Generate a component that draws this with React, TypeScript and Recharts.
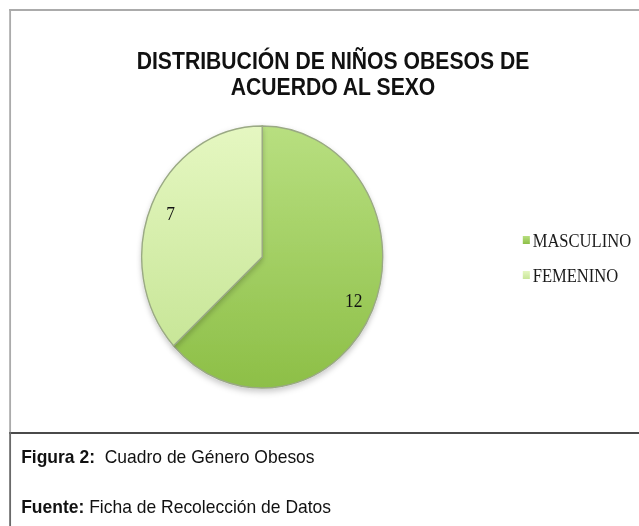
import React from 'react';
import { PieChart, Pie, Cell, Legend } from 'recharts';

const categories = ['MASCULINO', 'FEMENINO'];
const counts = [12, 7];
const titleLines = ['DISTRIBUCIÓN DE NIÑOS OBESOS DE', 'ACUERDO AL SEXO'];
const captionFigure = ['Figura 2:', 'Cuadro de Género Obesos'];
const captionSource = ['Fuente:', 'Ficha de Recolección de Datos'];

const data = categories.map((name, i) => ({ name, value: counts[i] }));

// the original picture is squeezed sideways, so draw wider and scale back down
const SQUEEZE = 0.92;
const W = 639 / SQUEEZE;
const H = 526;

const sliceFills = [
  { id: 'gradMasc', top: '#b8df80', bottom: '#8dbf47' },
  { id: 'gradFem', top: '#e5f7c1', bottom: '#c8e698' },
];

const RADIAN = Math.PI / 180;

const renderLabel = ({ cx, cy, midAngle, outerRadius, value }: any) => {
  const r = outerRadius * 0.83;
  const x = cx + r * Math.cos(-midAngle * RADIAN);
  const y = cy + r * Math.sin(-midAngle * RADIAN);
  return (
    <text
      x={x}
      y={y}
      textAnchor="middle"
      dominantBaseline="central"
      fontFamily="'Liberation Serif', serif"
      fontSize={19}
      fill="#111"
    >
      {value}
    </text>
  );
};

const LegendList = ({ payload }: any) => {
  // keep the order of the data, not the alphabetical one
  const items = [...(payload || [])].sort(
    (a: any, b: any) => categories.indexOf(a.value) - categories.indexOf(b.value)
  );
  return (
    <div style={{ fontFamily: "'Liberation Serif', serif", fontSize: 18, color: '#1a1a1a' }}>
      {items.map((entry: any) => {
        const idx = categories.indexOf(entry.value);
        return (
          <div key={entry.value} style={{ height: 35, display: 'flex', alignItems: 'center' }}>
            <svg width={8} height={8} style={{ marginRight: 3, marginTop: -3 }}>
              <rect width={8} height={8} fill={`url(#${sliceFills[idx].id})`} />
            </svg>
            <span>{entry.value}</span>
          </div>
        );
      })}
    </div>
  );
};

const line = (style: React.CSSProperties) => <div style={{ position: 'absolute', ...style }} />;

export default function App() {
  return (
    <div style={{ position: 'absolute', left: 0, top: 0, width: 639, height: H, overflow: 'hidden', background: '#fff' }}>
      <div
        style={{
          position: 'absolute',
          left: 0,
          top: 0,
          width: W,
          height: H,
          transform: `scaleX(${SQUEEZE})`,
          transformOrigin: 'left top',
        }}
      >
        {/* frame of the chart and the caption box */}
        {line({ left: 10, top: 9, width: W, height: 2, background: '#ababab' })}
        {line({ left: 10, top: 9, width: 2, height: 424, background: '#ababab' })}
        {line({ left: 10, top: 432, width: W, height: 2, background: '#4a4a4a' })}
        {line({ left: 10, top: 432, width: 2, height: H - 432, background: '#6a6a6a' })}

        <div
          style={{
            position: 'absolute',
            left: 62,
            top: 48,
            width: 600,
            textAlign: 'center',
            fontFamily: "'Liberation Sans', Arial, sans-serif",
            fontWeight: 'bold',
            fontSize: 23,
            lineHeight: '26px',
            color: '#111',
            whiteSpace: 'nowrap',
            zIndex: 2,
          }}
        >
          {titleLines.map((t) => (
            <div key={t}>{t}</div>
          ))}
        </div>

        <div style={{ position: 'absolute', left: 0, top: 0 }}>
          <PieChart width={W} height={430} margin={{ top: 0, right: 0, bottom: 0, left: 0 }}>
            <defs>
              {sliceFills.map((g) => (
                <linearGradient key={g.id} id={g.id} x1="0" y1="0" x2="0" y2="1">
                  <stop offset="0%" stopColor={g.top} />
                  <stop offset="100%" stopColor={g.bottom} />
                </linearGradient>
              ))}
              <filter id="pieShadow" x="-20%" y="-20%" width="140%" height="140%">
                <feDropShadow dx="0" dy="3" stdDeviation="3" floodColor="#000" floodOpacity="0.22" />
              </filter>
            </defs>
            <Pie
              data={data}
              dataKey="value"
              nameKey="name"
              cx={285}
              cy={257}
              outerRadius={131}
              startAngle={90}
              endAngle={-270}
              stroke="#9aa984"
              strokeWidth={1.5}
              label={renderLabel}
              labelLine={false}
              isAnimationActive={false}
            >
              {data.map((d, i) => (
                <Cell key={d.name} fill={`url(#${sliceFills[i].id})`} filter="url(#pieShadow)" />
              ))}
            </Pie>
            <Legend
              layout="vertical"
              align="right"
              verticalAlign="top"
              content={<LegendList />}
              wrapperStyle={{ left: 568, top: 224, width: 140 }}
            />
          </PieChart>
        </div>

        <div
          style={{
            position: 'absolute',
            left: 23,
            top: 447,
            fontFamily: "'Liberation Sans', Arial, sans-serif",
            fontSize: 19,
            lineHeight: '19px',
            color: '#111',
            whiteSpace: 'pre',
          }}
        >
          <b>{captionFigure[0]}</b>
          {'  ' + captionFigure[1]}
        </div>
        <div
          style={{
            position: 'absolute',
            left: 23,
            top: 497,
            fontFamily: "'Liberation Sans', Arial, sans-serif",
            fontSize: 19,
            lineHeight: '19px',
            color: '#111',
            whiteSpace: 'pre',
          }}
        >
          <b>{captionSource[0]}</b>
          {' ' + captionSource[1]}
        </div>
      </div>
    </div>
  );
}
